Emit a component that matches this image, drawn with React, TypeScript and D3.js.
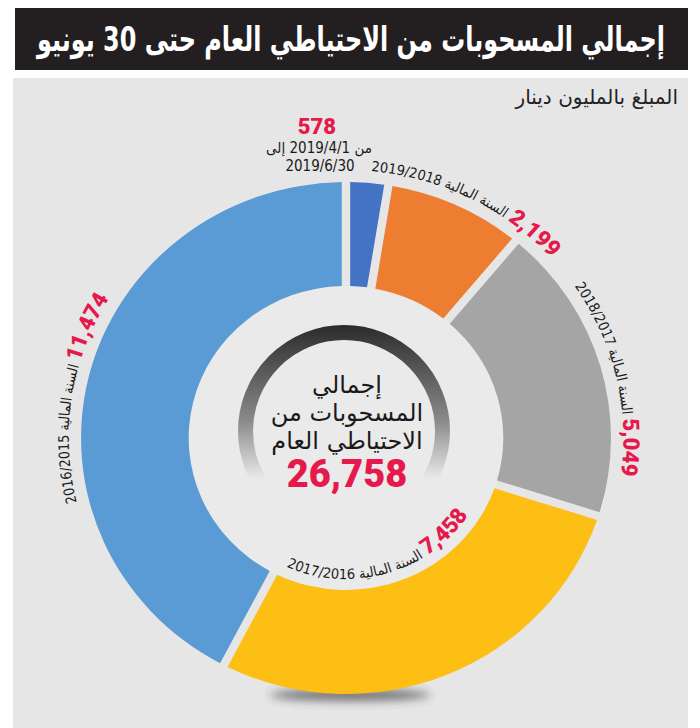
import React from "react";
import * as d3 from "d3";

// ---- data ----
const values = [578, 2199, 5049, 7458, 11474];
const periods = ["2019/4/1-2019/6/30", "2019/2018", "2018/2017", "2017/2016", "2016/2015"];
const colors = ["#4472c4", "#ed7d31", "#a5a5a5", "#fdbf14", "#5b9bd5"];
const fiscalWord = "السنة المالية";
const firstLabelLines = ["من 2019/4/1 إلى", "2019/6/30"];
const title = "إجمالي المسحوبات من الاحتياطي العام حتى 30 يونيو";
const subtitle = "المبلغ بالمليون دينار";
const centerLines = ["إجمالي", "المسحوبات من", "الاحتياطي العام"];

const RED = "#e5194b";
const AR = "'DejaVu Sans', sans-serif";
const NUM = "Roboto, 'DejaVu Sans', sans-serif";

export default function App() {
  const W = 700, H = 728;
  const cx = 346, cy = 438;
  const sx = 1.035;
  const rIn = 152, rOut = 256;
  const fmt = d3.format(",");
  const total = d3.sum(values);

  const pie = d3.pie<number>().sort(null).value((d) => d).padAngle(0.028);
  const arcs = pie(values);
  const arcGen = d3
    .arc<d3.PieArcDatum<number>>()
    .innerRadius(rIn)
    .outerRadius(rOut)
    .padRadius(290);

  const deg = Math.PI / 180;
  // label layout per slice (index 1..4)
  const labelCfg: Record<number, { shift: number; r: number; inner: boolean }> = {
    1: { shift: 2 * deg, r: 268, inner: false },
    2: { shift: 3 * deg, r: 268, inner: false },
    3: { shift: 6 * deg, r: 141, inner: true },
    4: { shift: -5 * deg, r: 268, inner: false },
  };

  const labelPath = (r: number, mid: number, inner: boolean) => {
    const p = d3.path();
    const span = 1.25;
    if (!inner) {
      const a0 = mid - span, a1 = mid + span;
      p.moveTo(r * Math.sin(a0), -r * Math.cos(a0));
      p.arc(0, 0, r, a0 - Math.PI / 2, a1 - Math.PI / 2, false);
    } else {
      const a0 = mid + span, a1 = mid - span;
      p.moveTo(r * Math.sin(a0), -r * Math.cos(a0));
      p.arc(0, 0, r, a0 - Math.PI / 2, a1 - Math.PI / 2, true);
    }
    return p.toString();
  };

  return (
    <svg
      width={W}
      height={H}
      viewBox={`0 0 ${W} ${H}`}
      style={{ position: "absolute", left: 0, top: 0, background: "#ffffff" }}
    >
      <defs>
        <linearGradient id="ringGrad" gradientUnits="userSpaceOnUse" x1="0" y1={cy - 113} x2="0" y2={cy + 100}>
          <stop offset="0" stopColor="#2b2b2b" />
          <stop offset="0.45" stopColor="#8a8a8a" />
          <stop offset="0.72" stopColor="#e9e9e9" />
          <stop offset="1" stopColor="#e9e9e9" />
        </linearGradient>
        <filter id="blur" x="-50%" y="-200%" width="200%" height="500%">
          <feGaussianBlur stdDeviation="5" />
        </filter>
      </defs>

      {/* title bar */}
      <rect x={15} y={8} width={673} height={62} fill="#231f20" />
      <text
        x={351}
        y={51}
        textAnchor="middle"
        fill="#ffffff"
        fontFamily={AR}
        fontWeight="bold"
        fontSize={34}
        textLength={628}
        lengthAdjust="spacingAndGlyphs"
      >
        {title}
      </text>

      {/* panel */}
      <rect x={13} y={78} width={675} height={650} fill="#e6e6e6" />
      <text x={678} y={104} textAnchor="end" fill="#222" fontFamily={AR} fontSize={20}>
        {subtitle}
      </text>

      {/* shadow under the ring */}
      <ellipse cx={cx + 4} cy={cy + 257} rx={80} ry={6} fill="#333" opacity={0.65} filter="url(#blur)" />

      <g transform={`translate(${cx},${cy}) scale(${sx},1)`}>
        <circle r={rIn} fill="#eaeaea" />
        {arcs.map((a, i) => (
          <path key={i} d={arcGen(a) || ""} fill={colors[i]} />
        ))}
        {arcs.map((a, i) => {
          const cfg = labelCfg[i];
          if (!cfg) return null;
          const mid = (a.startAngle + a.endAngle) / 2 + cfg.shift;
          return (
            <g key={"l" + i}>
              <path id={"lp" + i} d={labelPath(cfg.r, mid, cfg.inner)} fill="none" />
              <text fill="#1a1a1a" fontFamily={AR} style={{ fontStretch: "condensed" }}>
                <textPath href={"#lp" + i} startOffset="50%" textAnchor="middle">
                  <tspan fontSize={14}>{periods[i] + " " + fiscalWord}</tspan>
                  <tspan fontSize={14}>{"\u200E\u00A0"}</tspan>
                  <tspan fontSize={22} fontWeight={900} fill={RED} fontFamily={NUM} style={{ fontStretch: "normal" }}>
                    {fmt(values[i])}
                  </tspan>
                </textPath>
              </text>
            </g>
          );
        })}
      </g>

      {/* first (small) slice label */}
      <text x={cx - 29} y={134} textAnchor="middle" fill={RED} fontFamily={NUM} fontWeight={900} fontSize={22}>
        {fmt(values[0])}
      </text>
      <text x={cx - 27} y={153} textAnchor="middle" fill="#1a1a1a" fontFamily={AR} fontSize={15} direction="rtl" style={{ fontStretch: "condensed" }}>
        {firstLabelLines[0]}
      </text>
      <text x={cx - 26} y={171} textAnchor="middle" fill="#1a1a1a" fontFamily={AR} fontSize={15} style={{ fontStretch: "condensed" }}>
        {firstLabelLines[1]}
      </text>

      {/* centre ring and totals */}
      <circle cx={cx - 2} cy={cy - 7} r={98.5} fill="none" stroke="url(#ringGrad)" strokeWidth={15} />
      {centerLines.map((t, i) => (
        <text key={t} x={cx + 1} y={393 + i * 28} textAnchor="middle" fill="#1a1a1a" fontFamily={AR} fontSize={24}>
          {t}
        </text>
      ))}
      <text x={cx + 1} y={487} textAnchor="middle" fill={RED} fontFamily={NUM} fontWeight={900} fontSize={38}>
        {fmt(total)}
      </text>
    </svg>
  );
}
